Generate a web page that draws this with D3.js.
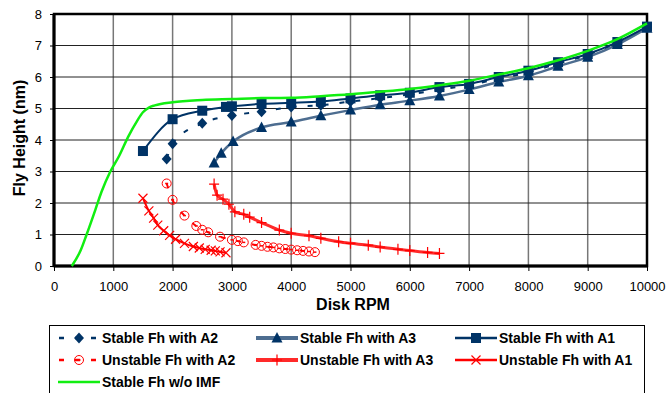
<!DOCTYPE html>
<html>
<head>
<meta charset="utf-8">
<script src="https://cdn.jsdelivr.net/npm/d3@7"></script>
<style>
  body { margin: 0; background: #fff; }
  text { font-family: "Liberation Sans", Arial, sans-serif; }
</style>
</head>
<body>
<script>
// Values: [rpm, fly height nm]
var stableA2 = [[1900,3.4],[2000,3.88],[2500,4.53],[3000,4.78],[3500,4.9],[4000,5.05],[4500,5.1],[5000,5.22],
  [5500,5.33],[6000,5.45],[6500,5.6],[7000,5.74],[7500,5.95],[8000,6.15],[8500,6.43],[9000,6.7],[9500,7.08],[10000,7.58]];
var stableA3 = [[2700,3.27],[2820,3.58],[3020,3.95],[3500,4.4],[4000,4.57],[4500,4.77],[5000,4.95],[5500,5.12],
  [6000,5.25],[6500,5.4],[7000,5.6],[7500,5.84],[8000,6.04],[8500,6.34],[9000,6.63],[9500,7.03],[10000,7.55]];
var stableA1 = [[1500,3.65],[2000,4.66],[2500,4.93],[2900,5.05],[3000,5.07],[3500,5.15],[4000,5.18],[4500,5.22],
  [5000,5.32],[5500,5.42],[6000,5.5],[6500,5.68],[7000,5.78],[7500,6.0],[8000,6.2],[8500,6.47],[9000,6.73],[9500,7.11],[10000,7.6]];
var unstableA2 = [[1900,2.62],[2000,2.1],[2200,1.6],[2400,1.27],[2500,1.15],[2600,1.07],[2800,0.93],[3000,0.83],
  [3100,0.79],[3200,0.75],[3400,0.67],[3500,0.64],[3600,0.61],[3700,0.59],[3800,0.56],[3900,0.54],[4000,0.52],
  [4100,0.5],[4200,0.48],[4300,0.46],[4400,0.44]];
var unstableA3 = [[2700,2.6],[2750,2.25],[2850,2.12],[2950,1.96],[3050,1.72],[3200,1.64],[3300,1.55],[3500,1.38],
  [3800,1.14],[4000,1.04],[4300,0.96],[4500,0.88],[4800,0.77],[5000,0.72],[5300,0.66],[5500,0.6],[5800,0.53],
  [6000,0.49],[6300,0.43],[6500,0.4]];
var unstableA1 = [[1500,2.15],[1600,1.75],[1680,1.52],[1750,1.3],[1850,1.12],[1950,0.97],[2050,0.85],[2200,0.72],
  [2350,0.62],[2450,0.57],[2550,0.53],[2650,0.5],[2720,0.48],[2800,0.45],[2900,0.42]];
var stableNoIMF = [[300,0],[450,0.5],[550,1.0],[700,1.8],[800,2.35],[950,3.0],[1100,3.5],[1250,4.1],[1400,4.6],
  [1500,4.88],[1600,5.03],[1700,5.1],[2000,5.2],[2500,5.27],[3000,5.3],[3500,5.33],[4000,5.34],[4500,5.39],
  [5000,5.45],[5500,5.53],[6000,5.62],[6500,5.74],[7000,5.88],[7500,6.08],[8000,6.28],[8500,6.53],[9000,6.83],
  [9500,7.2],[10000,7.7]];

var xTicks = [0,1000,2000,3000,4000,5000,6000,7000,8000,9000,10000];
var yTicks = [0,1,2,3,4,5,6,7,8];

var navy = "#003366", steel = "#4d6d90", red = "#ff0000", green = "#11ee11";

// series styles, in legend order
var series = [
  {name: "Stable Fh with A2", data: stableA2, line: navy, width: 2, dash: "5,11", marker: "diamond", mcolor: navy},
  {name: "Stable Fh with A3", data: stableA3, line: steel, width: 2.5, dash: null, marker: "triangle", mcolor: navy},
  {name: "Stable Fh with A1", data: stableA1, line: navy, width: 2, dash: null, marker: "square", mcolor: navy},
  {name: "Unstable Fh with A2", data: unstableA2, line: red, width: 2, dash: "5,11", marker: "circle", mcolor: red},
  {name: "Unstable Fh with A3", data: unstableA3, line: "#ff2a2a", width: 3, dash: null, marker: "plus", mcolor: red},
  {name: "Unstable Fh with A1", data: unstableA1, line: red, width: 2, dash: null, marker: "x", mcolor: red},
  {name: "Stable Fh w/o IMF", data: stableNoIMF, line: green, width: 2.5, dash: null, marker: null, mcolor: null}
];

var svg = d3.select("body").append("svg")
    .attr("width", 668)
    .attr("height", 393);

var x = d3.scaleLinear().domain([0, 10000]).range([54, 647]);
var y = d3.scaleLinear().domain([0, 8]).range([266, 14]);

// grid
svg.append("g").selectAll("line").data(xTicks).enter().append("line")
    .attr("x1", function(d) { return x(d); }).attr("x2", function(d) { return x(d); })
    .attr("y1", y(8)).attr("y2", y(0))
    .attr("stroke", "#777").attr("stroke-width", 1.5);
svg.append("g").selectAll("line").data(yTicks).enter().append("line")
    .attr("x1", x(0)).attr("x2", x(10000))
    .attr("y1", function(d) { return y(d); }).attr("y2", function(d) { return y(d); })
    .attr("stroke", "#222").attr("stroke-width", 1);

// axes
var xAxis = svg.append("g").attr("transform", "translate(0," + y(0) + ")")
    .call(d3.axisBottom(x).tickValues(xTicks).tickFormat(d3.format("d")).tickSize(5).tickPadding(11));
var yAxis = svg.append("g").attr("transform", "translate(" + x(0) + ",0)")
    .call(d3.axisLeft(y).tickValues(yTicks).tickFormat(d3.format("d")).tickSize(4).tickPadding(8));
[xAxis, yAxis].forEach(function(a) {
  a.select(".domain").remove();
  a.selectAll("line").attr("stroke", "#000");
  a.selectAll("text").attr("font-size", 13).attr("fill", "#000")
    .attr("font-family", "Liberation Sans, Arial, sans-serif");
});

// frame
svg.append("rect").attr("x", x(0)).attr("y", y(8))
    .attr("width", x(10000) - x(0)).attr("height", y(0) - y(8))
    .attr("fill", "none").attr("stroke", "#000").attr("stroke-width", 2.5);
svg.append("line").attr("x1", x(0)).attr("x2", x(10000)).attr("y1", y(0)).attr("y2", y(0))
    .attr("stroke", "#000").attr("stroke-width", 3);
svg.append("line").attr("x1", x(0)).attr("x2", x(0)).attr("y1", y(8)).attr("y2", y(0))
    .attr("stroke", "#000").attr("stroke-width", 3);

// draws one marker centred on cx, cy
function marker(g, type, cx, cy, color) {
  var m = g.append("g").attr("transform", "translate(" + cx + "," + cy + ")");
  if (type == "square") {
    m.append("rect").attr("x", -5).attr("y", -5).attr("width", 10).attr("height", 10).attr("fill", color);
  } else if (type == "diamond") {
    m.append("path").attr("d", "M0,-5.5L5,0L0,5.5L-5,0Z").attr("fill", color);
  } else if (type == "triangle") {
    m.append("path").attr("d", "M0,-6L5.5,4.5L-5.5,4.5Z").attr("fill", color);
  } else if (type == "circle") {
    m.append("circle").attr("r", 4.5).attr("fill", "none").attr("stroke", color).attr("stroke-width", 1);
    m.append("line").attr("x1", -1.5).attr("x2", 1.5).attr("stroke", color).attr("stroke-width", 1.5);
  } else if (type == "plus") {
    m.append("path").attr("d", "M-5,0H5M0,-5.5V5.5").attr("stroke", color).attr("stroke-width", 1.2);
  } else if (type == "x") {
    m.append("path").attr("d", "M-4.5,-4.5L4.5,4.5M-4.5,4.5L4.5,-4.5").attr("stroke", color).attr("stroke-width", 1.2);
  }
}

var line = d3.line()
    .x(function(d) { return x(d[0]); })
    .y(function(d) { return y(d[1]); })
    .curve(d3.curveMonotoneX);

series.forEach(function(s) {
  var g = svg.append("g");
  g.append("path").datum(s.data)
    .attr("d", line)
    .attr("fill", "none")
    .attr("stroke", s.line)
    .attr("stroke-width", s.width)
    .attr("stroke-dasharray", s.dash);
  if (s.marker) {
    s.data.forEach(function(d) { marker(g, s.marker, x(d[0]), y(d[1]), s.mcolor); });
  }
});

// axis titles
svg.append("text").attr("x", 353).attr("y", 310).attr("text-anchor", "middle")
    .attr("font-size", 16).attr("font-weight", "bold").text("Disk RPM");
svg.append("text").attr("transform", "translate(25,138) rotate(-90)").attr("text-anchor", "middle")
    .attr("font-size", 16).attr("font-weight", "bold").text("Fly Height (nm)");

// legend
var legend = svg.append("g");
legend.append("rect").attr("x", 49.5).attr("y", 325.5).attr("width", 595).attr("height", 80)
    .attr("fill", "#fff").attr("stroke", "#000").attr("stroke-width", 1);
var colX = [58, 256, 455], rowY = [338, 360, 382];
series.forEach(function(s, i) {
  var lx = colX[i % 3], ly = rowY[Math.floor(i / 3)];
  legend.append("line").attr("x1", lx).attr("x2", lx + 42).attr("y1", ly).attr("y2", ly)
    .attr("stroke", s.line).attr("stroke-width", s.width >= 2.5 && s.marker ? 4 : 2.5)
    .attr("stroke-dasharray", s.dash ? "5,11" : null)
    .attr("stroke-dashoffset", s.dash ? -1 : null);
  if (s.marker) marker(legend, s.marker, lx + 21, ly, s.mcolor);
  legend.append("text").attr("x", lx + 44).attr("y", ly).attr("dy", "0.35em")
    .attr("font-size", 14).attr("font-weight", "bold").text(s.name);
});
</script>
</body>
</html>
